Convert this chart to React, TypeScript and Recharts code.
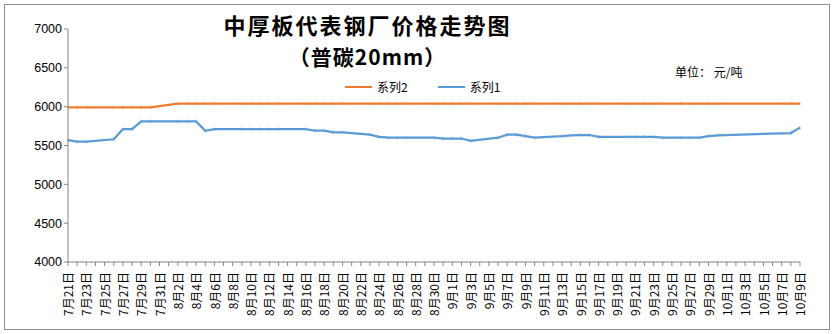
import { LineChart, Line, XAxis, YAxis } from "recharts";

// 日期（每天一个分类，隔一个显示标签）
const dates = [
  "7月21日", "7月22日", "7月23日", "7月24日", "7月25日", "7月26日", "7月27日", "7月28日", "7月29日", "7月30日", "7月31日",
  "8月1日", "8月2日", "8月3日", "8月4日", "8月5日", "8月6日", "8月7日", "8月8日", "8月9日", "8月10日",
  "8月11日", "8月12日", "8月13日", "8月14日", "8月15日", "8月16日", "8月17日", "8月18日", "8月19日", "8月20日",
  "8月21日", "8月22日", "8月23日", "8月24日", "8月25日", "8月26日", "8月27日", "8月28日", "8月29日", "8月30日", "8月31日",
  "9月1日", "9月2日", "9月3日", "9月4日", "9月5日", "9月6日", "9月7日", "9月8日", "9月9日", "9月10日",
  "9月11日", "9月12日", "9月13日", "9月14日", "9月15日", "9月16日", "9月17日", "9月18日", "9月19日", "9月20日",
  "9月21日", "9月22日", "9月23日", "9月24日", "9月25日", "9月26日", "9月27日", "9月28日", "9月29日", "9月30日",
  "10月1日", "10月2日", "10月3日", "10月4日", "10月5日", "10月6日", "10月7日", "10月8日", "10月9日",
];

// 系列2（橙色），非交易日为 null
const series2 = [
  5990, 5990, 5990, null, null, 5990, 5990, 5990, 5990, 5990, null,
  null, 6040, 6040, 6040, 6040, 6040, null, null, 6040, 6040,
  6040, 6040, 6040, null, null, 6040, 6040, 6040, 6040, 6040,
  null, null, 6040, 6040, 6040, 6040, 6040, null, null, 6040, 6040,
  6040, 6040, 6040, null, null, 6040, 6040, 6040, 6040, 6040,
  null, null, 6040, 6040, 6040, 6040, 6040, null, null, 6040,
  6040, 6040, 6040, 6040, null, 6040, 6040, 6040, 6040, 6040,
  null, null, null, null, null, null, null, 6040, 6040,
];

// 系列1（蓝色）
const series1 = [
  5570, 5550, 5550, null, null, 5580, 5710, 5710, 5810, 5810, null,
  null, 5810, 5810, 5810, 5690, 5710, null, null, 5710, 5710,
  5710, 5710, 5710, null, null, 5710, 5690, 5690, 5670, 5670,
  null, null, 5640, 5610, 5600, 5600, 5600, null, null, 5600, 5590,
  5590, 5590, 5560, null, null, 5600, 5640, 5640, 5620, 5600,
  null, null, 5620, 5630, 5635, 5635, 5610, null, null, 5610,
  5610, 5610, 5610, 5600, null, 5600, 5600, 5600, 5620, 5630,
  null, null, null, null, null, null, null, 5660, 5730,
];

const yTicks = [4000, 4500, 5000, 5500, 6000, 6500, 7000];

const data = dates.map((d, i) => ({ date: d, s1: series1[i], s2: series2[i] }));

const AXIS = "#868686";
const FONT = "'Noto Sans CJK SC', 'Liberation Sans', sans-serif";

function DateTick(props: any) {
  const { x, y, payload } = props;
  const idx = dates.indexOf(payload.value);
  if (idx % 2 !== 0) return null;
  return (
    <text
      x={x + 1}
      y={y + 4}
      transform={`rotate(-90, ${x + 1}, ${y + 4})`}
      textAnchor="end"
      dy="0.35em"
      fontSize={12}
      fill="#000"
      fontFamily={FONT}
    >
      {payload.value}
    </text>
  );
}

function TickDot(props: any) {
  const { cx, cy, stroke } = props;
  if (cx == null || cy == null) return null;
  return <line x1={cx} x2={cx} y1={cy - 2} y2={cy + 2} stroke={stroke} strokeWidth={1} opacity={0.5} />;
}

export default function App() {
  return (
    <div
      style={{
        position: "absolute",
        left: 0,
        top: 0,
        width: 835,
        height: 334,
        background: "#fff",
        fontFamily: FONT,
      }}
    >
      {/* 外框 */}
      <div
        style={{
          position: "absolute",
          left: 4,
          top: 4,
          width: 824,
          height: 324,
          border: "1px solid #8c8c8c",
        }}
      />

      <LineChart width={835} height={334} data={data} margin={{ top: 29, right: 35, bottom: 0, left: 0 }}>
        <XAxis
          dataKey="date"
          interval={0}
          tick={<DateTick />}
          tickSize={4}
          height={72}
          stroke={AXIS}
          tickLine={{ stroke: AXIS }}
        />
        <YAxis
          domain={[4000, 7000]}
          ticks={yTicks}
          width={68}
          tickSize={4}
          stroke={AXIS}
          tick={{ fontSize: 12.5, fill: "#000", fontFamily: "'Liberation Sans', sans-serif" }}
        />
        <Line
          dataKey="s2"
          stroke="#ED7D31"
          strokeWidth={2.25}
          connectNulls
          dot={<TickDot />}
          isAnimationActive={false}
        />
        <Line
          dataKey="s1"
          stroke="#5B9BD5"
          strokeWidth={2.25}
          connectNulls
          dot={<TickDot />}
          isAnimationActive={false}
        />
      </LineChart>

      {/* 标题 */}
      <div
        style={{
          position: "absolute",
          left: 190,
          top: 13,
          width: 355,
          textAlign: "center",
          fontSize: 22,
          letterSpacing: 2,
          fontWeight: "bold",
          lineHeight: "22px",
          color: "#000",
        }}
      >
        中厚板代表钢厂价格走势图
      </div>
      <div
        style={{
          position: "absolute",
          left: 190,
          top: 46,
          width: 355,
          textAlign: "center",
          fontSize: 21,
          letterSpacing: 1,
          fontWeight: "bold",
          lineHeight: "21px",
          color: "#000",
        }}
      >
        （普碳20mm）
      </div>

      {/* 单位 */}
      <div style={{ position: "absolute", left: 675, top: 63, fontSize: 12, color: "#000" }}>
        单位： 元/吨
      </div>

      {/* 图例 */}
      <div style={{ position: "absolute", left: 345, top: 78, display: "flex", alignItems: "center", fontSize: 12 }}>
        <span style={{ display: "inline-block", width: 27, height: 2, background: "#ED7D31", marginRight: 5 }} />
        <span style={{ marginRight: 30 }}>系列2</span>
        <span style={{ display: "inline-block", width: 27, height: 2, background: "#5B9BD5", marginRight: 5 }} />
        <span>系列1</span>
      </div>
    </div>
  );
}
